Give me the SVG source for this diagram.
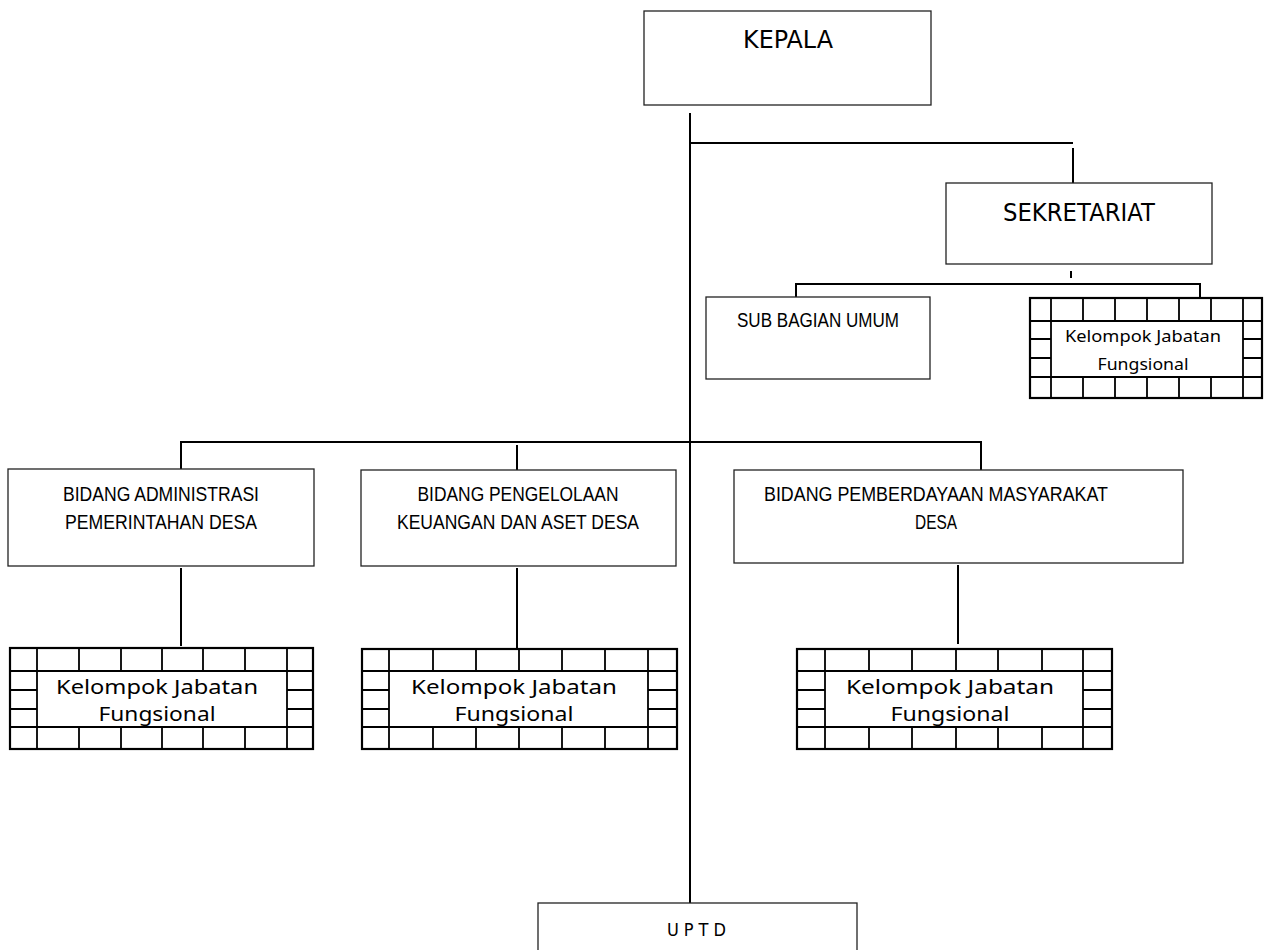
<svg xmlns="http://www.w3.org/2000/svg" width="1266" height="950" viewBox="0 0 1266 950">
<style>
.box{fill:#fff;stroke:#222;stroke-width:1.3}
.con{stroke:#000;stroke-width:2;fill:none}
.grid{stroke:#000;stroke-width:1.8;fill:none}
.gout{fill:#fff;stroke:#000;stroke-width:2.2}
.t1{font-family:"DejaVu Sans",sans-serif;font-size:24.5px;fill:#000;text-anchor:middle}
.t2{font-family:"Liberation Sans",Arial,sans-serif;font-size:19.5px;fill:#000;text-anchor:middle}
.kj{font-family:"Noto Sans","Open Sans",sans-serif;font-size:20px;fill:#000;text-anchor:middle}
.kjs{font-family:"Noto Sans","Open Sans",sans-serif;font-size:17px;fill:#000;text-anchor:middle}
.up{font-family:"DejaVu Sans Condensed","DejaVu Sans",sans-serif;font-size:18px;fill:#000;letter-spacing:5px}
</style>
<rect width="1266" height="950" fill="#fff"/>

<g id="connectors">
<path class="con" d="M690 113V903"/>
<path class="con" d="M690 143H1073M1073 148V183"/>
<path class="con" d="M1071 271V278"/>
<path class="con" d="M796 297V284H1200V298"/>
<path class="con" d="M181 469V442H981V470"/>
<path class="con" d="M517 445V470"/>
<path class="con" d="M181 568V646"/>
<path class="con" d="M517 568V648"/>
<path class="con" d="M958 565V644"/>
</g>

<g id="kepala">
<rect class="box" x="644" y="11" width="287" height="94"/>
<text class="t1" x="788" y="48" textLength="90" lengthAdjust="spacingAndGlyphs">KEPALA</text>
</g>

<g id="sekretariat">
<rect class="box" x="946" y="183" width="266" height="81"/>
<text class="t1" x="1079" y="221" textLength="152" lengthAdjust="spacingAndGlyphs">SEKRETARIAT</text>
</g>

<g id="sub-bagian-umum">
<rect class="box" x="706" y="297" width="224" height="82"/>
<text class="t2" x="818" y="327" textLength="162" lengthAdjust="spacingAndGlyphs">SUB BAGIAN UMUM</text>
</g>

<g id="jf-sekretariat">
<rect class="gout" x="1030" y="298" width="232" height="100"/>
<path class="grid" d="M1030 321H1262M1030 377H1262M1030 339H1051M1030 358H1051M1243 339H1262M1243 358H1262M1051 298V398M1243 298V398M1083 298V321M1115 298V321M1147 298V321M1179 298V321M1211 298V321M1083 377V398M1115 377V398M1147 377V398M1179 377V398M1211 377V398"/>
<text class="kjs" x="1143" y="342" textLength="156" lengthAdjust="spacingAndGlyphs">Kelompok Jabatan</text>
<text class="kjs" x="1143" y="370" textLength="91" lengthAdjust="spacingAndGlyphs">Fungsional</text>
</g>

<g id="bidang-administrasi">
<rect class="box" x="8" y="469" width="306" height="97"/>
<text class="t2" x="161" y="501" textLength="196" lengthAdjust="spacingAndGlyphs">BIDANG ADMINISTRASI</text>
<text class="t2" x="161" y="529" textLength="192" lengthAdjust="spacingAndGlyphs">PEMERINTAHAN DESA</text>
</g>

<g id="bidang-pengelolaan">
<rect class="box" x="361" y="470" width="315" height="96"/>
<text class="t2" x="518" y="501" textLength="201" lengthAdjust="spacingAndGlyphs">BIDANG PENGELOLAAN</text>
<text class="t2" x="518" y="529" textLength="242" lengthAdjust="spacingAndGlyphs">KEUANGAN DAN ASET DESA</text>
</g>

<g id="bidang-pemberdayaan">
<rect class="box" x="734" y="470" width="449" height="93"/>
<text class="t2" x="936" y="501" textLength="344" lengthAdjust="spacingAndGlyphs">BIDANG PEMBERDAYAAN MASYARAKAT</text>
<text class="t2" x="936" y="529" textLength="42" lengthAdjust="spacingAndGlyphs">DESA</text>
</g>

<g id="jf-administrasi">
<rect class="gout" x="10" y="648" width="303" height="101"/>
<path class="grid" d="M10 671H313M10 727H313M10 690H37M10 709H37M287 690H313M287 709H313M37 648V749M287 648V749M79 648V671M121 648V671M162 648V671M203 648V671M245 648V671M79 727V749M121 727V749M162 727V749M203 727V749M245 727V749"/>
<text class="kj" x="157" y="694" textLength="202" lengthAdjust="spacingAndGlyphs">Kelompok Jabatan</text>
<text class="kj" x="157" y="721" textLength="117" lengthAdjust="spacingAndGlyphs">Fungsional</text>
</g>

<g id="jf-pengelolaan">
<rect class="gout" x="362" y="649" width="315" height="100"/>
<path class="grid" d="M362 671H677M362 727H677M362 690H389M362 709H389M648 690H677M648 709H677M389 649V749M648 649V749M433 649V671M476 649V671M519 649V671M562 649V671M605 649V671M433 727V749M476 727V749M519 727V749M562 727V749M605 727V749"/>
<text class="kj" x="514" y="694" textLength="206" lengthAdjust="spacingAndGlyphs">Kelompok Jabatan</text>
<text class="kj" x="514" y="721" textLength="119" lengthAdjust="spacingAndGlyphs">Fungsional</text>
</g>

<g id="jf-pemberdayaan">
<rect class="gout" x="797" y="649" width="315" height="100"/>
<path class="grid" d="M797 671H1112M797 727H1112M797 690H825M797 709H825M1083 690H1112M1083 709H1112M825 649V749M1083 649V749M869 649V671M912 649V671M956 649V671M998 649V671M1042 649V671M869 727V749M912 727V749M956 727V749M998 727V749M1042 727V749"/>
<text class="kj" x="950" y="694" textLength="208" lengthAdjust="spacingAndGlyphs">Kelompok Jabatan</text>
<text class="kj" x="950" y="721" textLength="119" lengthAdjust="spacingAndGlyphs">Fungsional</text>
</g>

<g id="uptd">
<rect class="box" x="538" y="903" width="319" height="60"/>
<text class="up" x="667" y="936">UPTD</text>
</g>
</svg>
